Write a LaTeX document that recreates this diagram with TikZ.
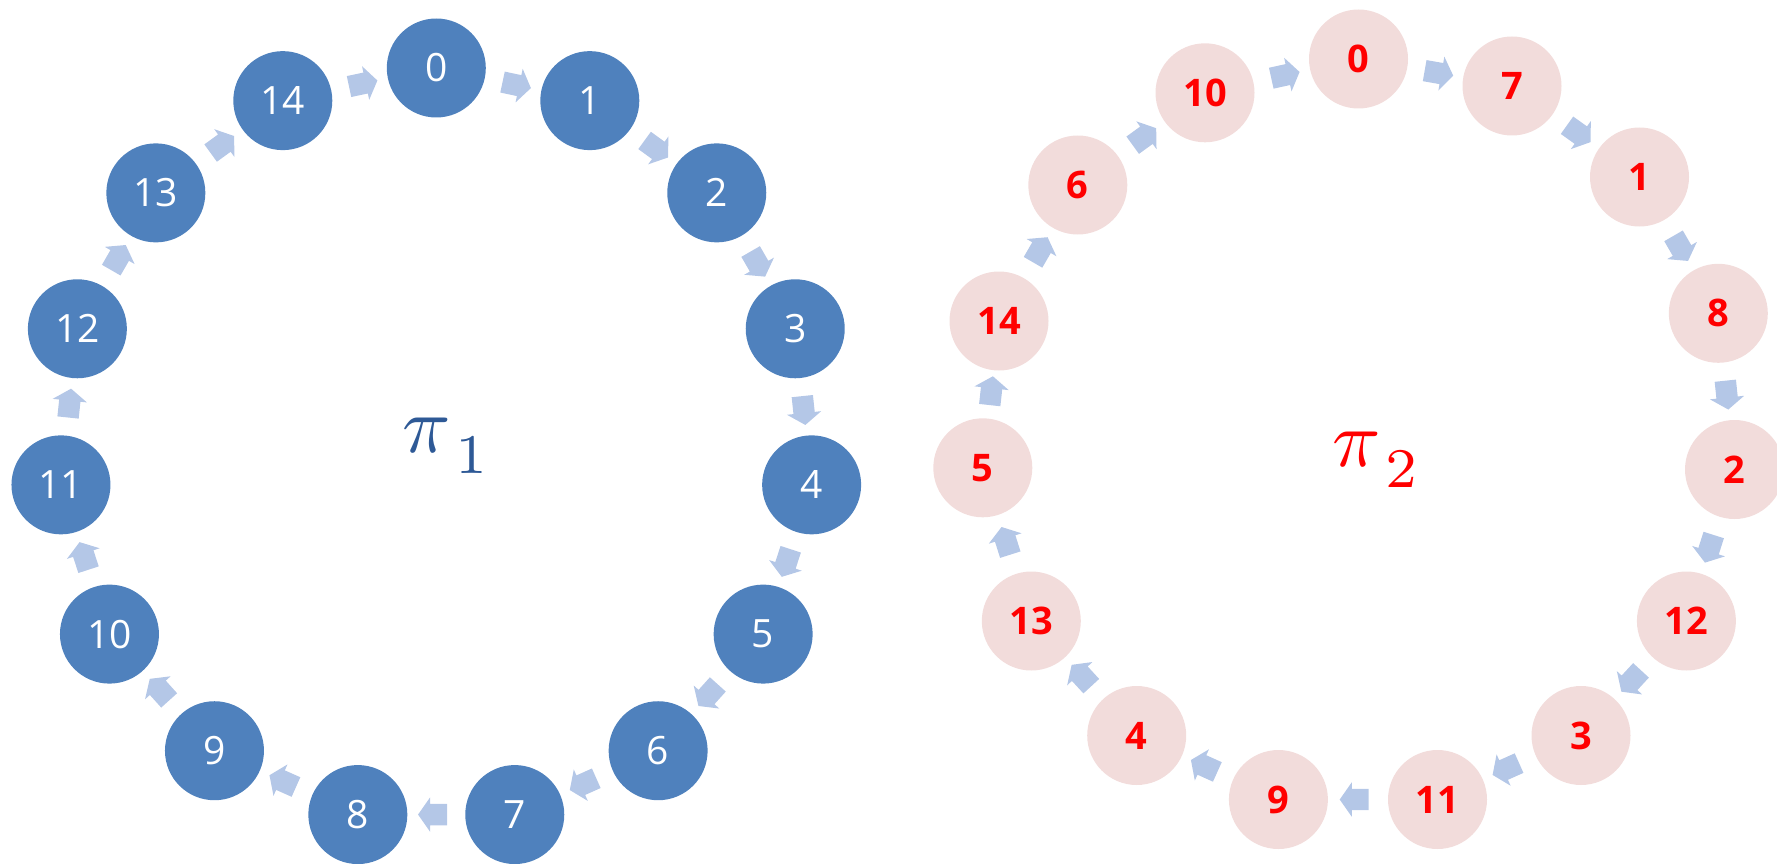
\documentclass[tikz,border=0pt]{standalone}
\usepackage{fontspec}
\setmainfont{Open Sans}
\usetikzlibrary{shapes.arrows}
\definecolor{ringblue}{RGB}{79,129,189}
\definecolor{ringpink}{RGB}{242,220,219}
\definecolor{arrowc}{RGB}{180,199,231}
\definecolor{piblue}{RGB}{46,89,150}
\definecolor{numred}{RGB}{255,0,0}
\tikzset{
  bnode/.style={circle, fill=ringblue, minimum size=99pt, inner sep=0pt, text=white, font=\fontsize{39}{39}\selectfont},
  pnode/.style={circle, fill=ringpink, minimum size=99pt, inner sep=0pt, text=numred, font=\fontsize{38}{38}\selectfont\bfseries},
  barrow/.style={single arrow, fill=arrowc, draw=none, minimum height=29pt, minimum width=0pt, single arrow head extend=6.5pt, single arrow head indent=0pt, single arrow tip angle=110, inner xsep=0pt, inner ysep=10.5pt, midway, sloped, allow upside down},
  pilabel/.style={inner sep=0pt, scale=8}
}
\newcommand{\mysub}[1]{\kern0.9pt\raisebox{-1.1pt}{$\scriptstyle #1$}}
\begin{document}
\begin{tikzpicture}[x=1pt,y=-1pt]
\useasboundingbox (0,0) rectangle (1777,864);
% left ring
\foreach \k in {0,...,14}{
  \node[bnode] (L\k) at ({436.3+377.4*cos(90-24*\k)},{445.4-377.4*sin(90-24*\k)}) {\k};
}
\foreach \k in {0,...,14}{
  \pgfmathtruncatemacro{\nx}{mod(\k+1,15)}
  \path (L\k) -- (L\nx) node[barrow] {};
}
% right ring
\foreach \nm/\x/\y [count=\i from 0] in {0/1358.5/59, 7/1512/86, 1/1639.5/177, 8/1718.3/313.3, 2/1734.5/469.5, 12/1686.4/621, 3/1581/735.5, 11/1437.5/799.5, 9/1278.4/799.5, 4/1136.7/735.5, 13/1031.3/621, 5/982.8/467.8, 14/999/321, 6/1077.8/185, 10/1205/92.8}{
  \node[pnode] (R\i) at (\x,\y) {\nm};
}
\foreach \k in {0,...,14}{
  \pgfmathtruncatemacro{\nx}{mod(\k+1,15)}
  \path (R\k) -- (R\nx) node[barrow] {};
}
\node[pilabel, text=piblue] (pi1) at (447,446) {$\pi_{\mysub{1}}$};
\node[pilabel, text=numred] (pi2) at (1377,460) {$\pi_{\mysub{2}}$};
\end{tikzpicture}
\end{document}
